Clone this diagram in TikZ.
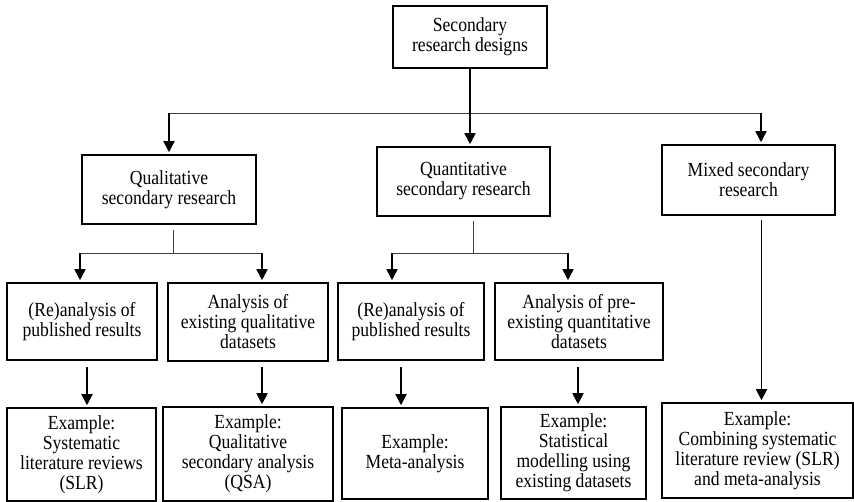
\documentclass[tikz,border=0pt]{standalone}
\usepackage{fontspec}
\setmainfont[FakeStretch=0.88]{Liberation Serif}
\usetikzlibrary{arrows.meta}

\begin{document}
\begin{tikzpicture}[x=1pt,y=-1pt,
	box/.style={draw,line width=1.6pt,align=center,inner sep=0pt,
		font=\fontsize{20}{20}\selectfont},
	arrow/.style={line width=1.8pt,-{Triangle[width=11pt,length=11pt]},shorten >=2pt},
	link/.style={line width=0.8pt,draw=black!75}]
	\useasboundingbox (0,0) rectangle (854,501);

	% top level
	\node[box,minimum width=154pt,minimum height=62pt] (top) at (470,37) {Secondary\\research designs};

	% second level
	\node[box,minimum width=174pt,minimum height=69pt] (qual) at (169,189.5) {Qualitative\\secondary research};
	\node[box,minimum width=173pt,minimum height=69pt] (quant) at (463.5,181.5) {Quantitative\\secondary research};
	\node[box,minimum width=173pt,minimum height=70pt] (mixed) at (748.5,180) {Mixed secondary\\research};

	% third level
	\node[box,minimum width=150pt,minimum height=77pt] (qlreana) at (82,321.5) {(Re)analysis of\\published results};
	\node[box,minimum width=160pt,minimum height=78pt] (qldata) at (248,322) {Analysis of\\existing qualitative\\datasets};
	\node[box,minimum width=146pt,minimum height=77pt] (qnreana) at (411,321.5) {(Re)analysis of\\published results};
	\node[box,minimum width=168pt,minimum height=77pt] (qndata) at (579,321.5) {Analysis of pre-\\existing quantitative\\datasets};

	% examples
	\node[box,minimum width=149pt,minimum height=93pt] (slr) at (81.5,454.5) {Example:\\Systematic\\literature reviews\\(SLR)};
	\node[box,minimum width=170pt,minimum height=94pt] (qsa) at (248,454) {Example:\\Qualitative\\secondary analysis\\(QSA)};
	\node[box,minimum width=146pt,minimum height=91pt] (meta) at (415,453.5) {Example:\\Meta-analysis};
	\node[box,minimum width=145pt,minimum height=92pt] (stat) at (573.5,453) {Example:\\Statistical\\modelling using\\existing datasets};
	\node[box,minimum width=191pt,minimum height=95pt] (comb) at (757.5,450.5) {Example:\\Combining systematic\\literature review (SLR)\\and meta-analysis};

	% junctions
	\coordinate (j1) at (top.south |- 0,113);
	\coordinate (j1l) at (qual.north |- j1);
	\coordinate (j1r) at (761,113);
	\coordinate (j2) at (173,253);
	\coordinate (j2l) at (80,253);
	\coordinate (j2r) at (262,253);
	\coordinate (j3) at (473,253);
	\coordinate (j3l) at (392,253);
	\coordinate (j3r) at (568,253);

	\draw[line width=1.8pt] (top.south) -- (j1);
	\draw[link] (j1l) -- (j1r);
	\draw[arrow] (j1l) -- (qual.north);
	\draw[arrow] (j1) -- (j1 |- quant.north);
	\draw[arrow] (j1r) -- (j1r |- mixed.north);

	\draw[link] ([yshift=-5pt]j2 |- qual.south) -- (j2);
	\draw[link] (j2l) -- (j2r);
	\draw[arrow] (j2l) -- (j2l |- qlreana.north);
	\draw[arrow] (j2r) -- (j2r |- qldata.north);

	\draw[link] ([yshift=-4pt]j3 |- quant.south) -- (j3);
	\draw[link] (j3l) -- (j3r);
	\draw[arrow] (j3l) -- (j3l |- qnreana.north);
	\draw[arrow] (j3r) -- (j3r |- qndata.north);

	\draw[arrow] ([xshift=5pt,yshift=-6pt]qlreana.south) -- ([xshift=5pt]qlreana.south |- slr.north);
	\draw[arrow] ([xshift=14pt,yshift=-5pt]qldata.south) -- ([xshift=14pt]qldata.south |- qsa.north);
	\draw[arrow] ([xshift=-10pt,yshift=-6pt]qnreana.south) -- ([xshift=-10pt]qnreana.south |- meta.north);
	\draw[arrow] ([xshift=-1pt,yshift=-6pt]qndata.south) -- ([xshift=-1pt]qndata.south |- stat.north);
	\draw[arrow] ([xshift=13pt,yshift=-4pt]mixed.south) -- ([xshift=13pt]mixed.south |- comb.north);
\end{tikzpicture}
\end{document}
